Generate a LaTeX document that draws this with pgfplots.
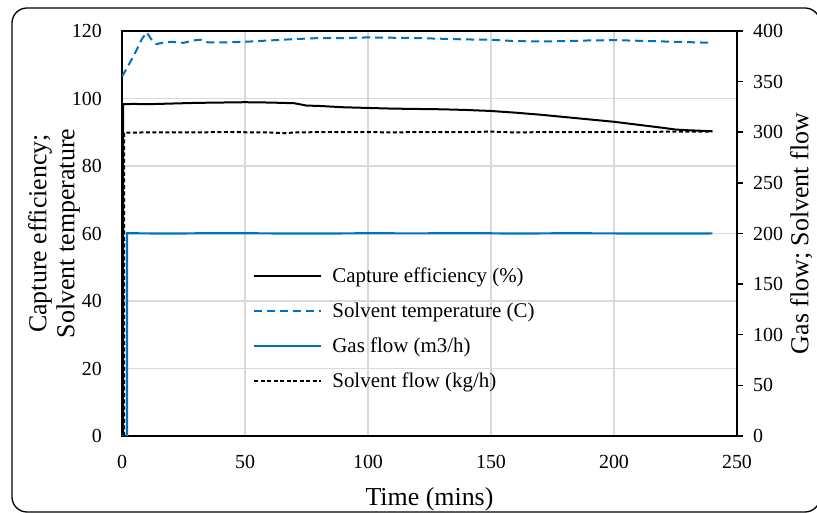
\documentclass[border=0pt]{standalone}
\usepackage{pgfplots}
\pgfplotsset{compat=1.18}
\usepackage{fontspec}
\setmainfont{Liberation Serif}
\definecolor{xlblue}{RGB}{0,112,192}
\definecolor{gridgray}{RGB}{217,217,217}
\begin{document}
\begin{tikzpicture}
\begin{axis}[
  scale only axis, width=615bp, height=405bp,
  at={(0,0)}, anchor=south west,
  xmin=0, xmax=250, ymin=0, ymax=120,
  xtick={0,50,...,250}, ytick={0,20,...,120},
  major tick length=0pt,
  grid=major, major grid style={draw=gridgray, line width=1.5bp},
  axis line style={black, line width=1.5bp},
  /pgf/number format/assume math mode=true,
  ticklabel style={font=\fontsize{20}{24}\selectfont},
  xticklabel style={inner sep=0pt, anchor=north, yshift=-19bp},
  yticklabel style={inner sep=0pt, anchor=east, xshift=-20bp},
  xlabel={Time (mins)},
  xlabel style={at={(axis description cs:0.5,0)}, anchor=base, yshift=-69bp, inner sep=0pt, font=\fontsize{26}{30}\selectfont},
]
% Capture efficiency (%)
\addplot[black, line width=2bp] coordinates {
(0.5,0) (0.5,98.3) (5,98.4) (10,98.3) (20,98.5) (30,98.7) (40,98.8) (50,98.9)
(60,98.8) (70,98.6) (75,97.9) (80,97.8) (90,97.4) (100,97.2) (110,97.0) (120,96.9)
(130,96.8) (140,96.6) (150,96.3) (160,95.8) (170,95.2) (180,94.5) (190,93.8)
(200,93.1) (210,92.2) (220,91.3) (225,90.8) (230,90.6) (240,90.3)};
% Solvent temperature (C)
\addplot[xlblue, line width=2bp, dash pattern=on 8bp off 5bp] coordinates {
(0,106.5) (2,109) (5,113) (8,117.5) (10,119.6) (12,117.5) (14,116.1) (17,116.6)
(20,116.8) (25,116.5) (30,117.3) (32,117.4) (35,116.6) (40,116.6) (50,116.8)
(60,117.2) (70,117.6) (80,117.9) (90,117.9) (100,118.1) (110,118.0) (120,117.9)
(130,117.7) (140,117.5) (150,117.4) (160,117.0) (170,116.9) (180,117.0)
(190,117.2) (200,117.3) (210,117.1) (220,116.9) (230,116.7) (240,116.5)};
\end{axis}
\begin{axis}[
  scale only axis, width=615bp, height=405bp,
  at={(0,0)}, anchor=south west,
  xmin=0, xmax=250, ymin=0, ymax=400,
  axis y line*=right, axis x line=none,
  ytick={0,50,...,400},
  tick align=outside, major tick length=6bp,
  tick style={black, line width=1.5bp},
  axis line style={black, line width=1.5bp},
  /pgf/number format/assume math mode=true,
  ticklabel style={font=\fontsize{20}{24}\selectfont},
  yticklabel style={inner sep=0pt, anchor=west, xshift=10bp},
  legend style={draw=none, fill=none, at={(axis description cs:0.213,0.417)}, anchor=north west,
    inner sep=0pt, row sep=15bp, font=\fontsize{21}{24}\selectfont,
    nodes={text height=15bp, text depth=5bp, inner sep=0pt},
    /tikz/every odd column/.append style={column sep=10bp}},
  legend cell align=left,
  legend image code/.code={\draw[#1] (0bp,1bp) -- (67bp,1bp);},
]
\addlegendimage{black, line width=2bp}
\addlegendentry{Capture efficiency (\%)}
\addlegendimage{xlblue, line width=2bp, dash pattern=on 8bp off 5bp}
\addlegendentry{Solvent temperature (C)}
% Gas flow (m3/h)
\addplot[xlblue, line width=2.2bp] coordinates {
(0,0) (2,0) (2,200.2) (20,200.0) (40,200.3) (60,200.1) (80,200.0) (100,200.2)
(120,200.1) (140,200.3) (160,200.0) (180,200.2) (200,200.1) (220,200.0) (240,200.1)};
\addlegendentry{Gas flow (m3/h)}
% Solvent flow (kg/h)
\addplot[black, line width=2bp, dash pattern=on 4bp off 2.5bp] coordinates {
(0.9,0) (0.9,299.6) (10,299.8) (20,300.0) (30,299.9) (40,300.1) (50,300.0)
(60,299.8) (66,299.0) (70,299.8) (80,300.1) (90,300.0) (100,300.1) (110,299.9)
(120,300.1) (130,300.0) (140,300.2) (150,300.6) (160,299.8) (170,300.1) (180,300.0)
(190,300.2) (200,300.3) (210,300.4) (220,300.5) (230,300.6) (240,300.5)};
\addlegendentry{Solvent flow (kg/h)}
\end{axis}
\node[rotate=90, align=center, anchor=center, font=\fontsize{26}{28}\selectfont] at (-68bp,202.5bp) {Capture efficiency;\\Solvent temperature};
\node[rotate=90, anchor=north, inner sep=0pt, font=\fontsize{26}{30}\selectfont] at (668bp,202.5bp) {Gas flow; Solvent flow};
\draw[line width=1.3bp, rounded corners=15bp] (-110bp,-76bp) rectangle (698bp,428bp);
\pgfresetboundingbox
\path[use as bounding box] (-122bp,-77bp) rectangle (695bp,436bp);
\end{tikzpicture}
\end{document}
